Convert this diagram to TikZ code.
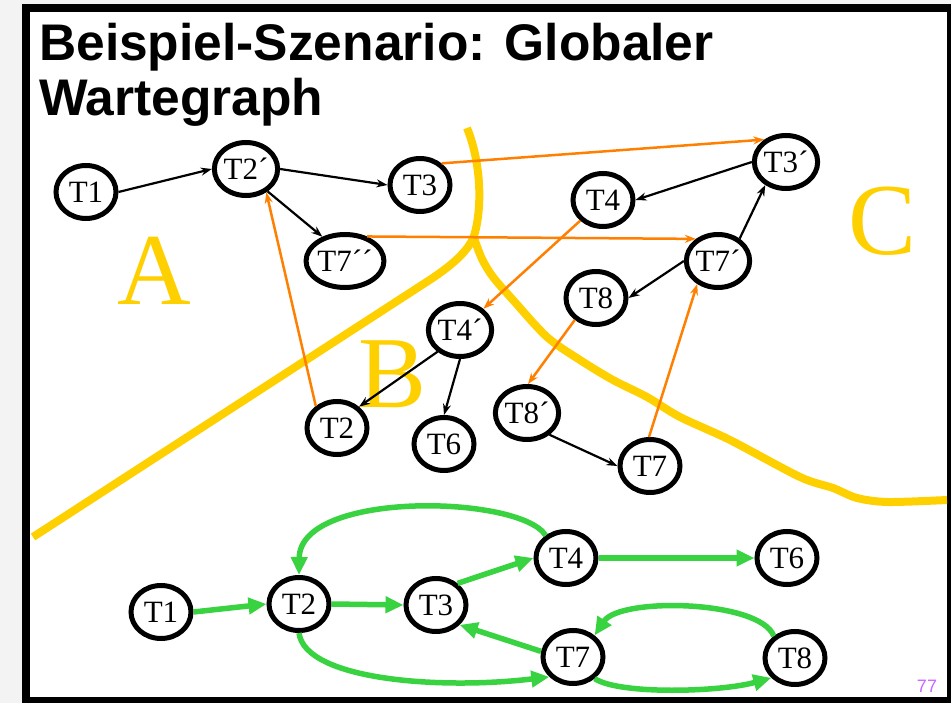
\documentclass[tikz,border=0pt]{standalone}
\usepackage{fontspec}
\setmainfont{Liberation Serif}
\newfontfamily\titlefont{Liberation Sans}
\usetikzlibrary{shapes.geometric,arrows.meta}
\definecolor{ylw}{RGB}{255,208,0}
\definecolor{org}{RGB}{255,128,0}
\definecolor{grn}{RGB}{57,210,64}
\definecolor{pnum}{RGB}{204,102,255}
\definecolor{bggray}{RGB}{243,243,243}
\begin{document}
\begin{tikzpicture}[x=1pt,y=-1pt,
 tnode/.style={ellipse,draw=black,line width=5pt,minimum width=60pt,minimum height=53pt,inner sep=0pt,fill=white,font=\fontsize{31}{36}\selectfont},
 blk/.style={-{Stealth[length=11pt,width=8pt]},line width=2.2pt,black},
 orng/.style={-{Stealth[length=11pt,width=8pt]},line width=2.5pt,org},
 gr/.style={-{Triangle[length=18pt,width=16pt]},line width=5.5pt,grn},
 zone/.style={ylw,line width=8pt},
 zlabel/.style={ylw,font=\fontsize{102}{110}\selectfont,inner sep=0pt,anchor=base},
 ttl/.style={font=\titlefont\bfseries\fontsize{51.5}{55}\selectfont,inner sep=0pt,anchor=base west}]
\useasboundingbox (0,0) rectangle (951,703);
% frame
\fill[bggray] (0,0) rectangle (951,703);
\fill[black] (22,4) rectangle (951,703);
\fill[white] (30,12) rectangle (947,697);
% title
\node[ttl] (title1) at (39,61) {Beispiel-Szenario: Globaler};
\node[ttl] (title2) at (39,116) {Wartegraph};
% zone borders
\draw[zone] (33,537) -- (425,283) .. controls (450,267) and (468,252) .. (474,236)
  .. controls (482,210) and (482,165) .. (467,128);
\draw[zone] plot[smooth] coordinates {(474,238) (482,259) (493,277) (513,300) (547,337) (580,360) (613,380) (647,397) (680,417) (730,440) (800,477) (833,488) (857,498) (888,502) (947,500)};
% zone labels
\node[zlabel] (zA) at (154,305) {A};
\node[zlabel] (zB) at (393,407) {B};
\node[zlabel] (zC) at (883,255) {C};
% local graphs
\node[tnode] (a1) at (86,192) {T1};
\node[tnode] (a2) at (246,169) {T2´};
\node[tnode] (a3) at (420,185) {T3};
\node[tnode] (a7) at (345,261) {T7´´};
\node[tnode] (c3) at (786,162) {T3´};
\node[tnode] (c4) at (603,200) {T4};
\node[tnode] (c7) at (718,261) {T7´};
\node[tnode] (c8) at (596,298) {T8};
\node[tnode] (b4) at (460,330) {T4´};
\node[tnode] (b2) at (337,428) {T2};
\node[tnode] (b6) at (444,444) {T6};
\node[tnode] (c8p) at (527,413) {T8´};
\node[tnode] (c7b) at (650,466) {T7};
% black local edges
\draw[blk] (a1.east) -- (a2.west);
\draw[blk] (a2.east) -- (a3.west);
\draw[blk] (a2.-46) -- (a7.133);
\draw[blk] (c3.west) -- (c4.east);
\draw[blk] (c7.46) -- (c3.228);
\draw[blk] (c7.west) -- (c8.east);
\draw[blk] (b4.224) -- (b2.44);
\draw[blk] (b4.south) -- (b6.north);
\draw[blk] (c8p.-44) -- (c7b.west);
% orange global edges
\draw[orng] (a3.45) -- (c3.134);
\draw[orng] (a7.48) -- (c7.135);
\draw[orng] (c4) -- (b4);
\draw[orng] (b2.134) -- (a2.-49);
\draw[orng] (c8.226) -- (c8p.88);
\draw[orng] (c7b.92) -- (c7.228);
% global graph
\node[tnode] (g1) at (161,612) {T1};
\node[tnode] (g2) at (299,604) {T2};
\node[tnode] (g3) at (436,605) {T3};
\node[tnode] (g4) at (566,558) {T4};
\node[tnode] (g6) at (787,558) {T6};
\node[tnode] (g7) at (573,657) {T7};
\node[tnode] (g8) at (795,658) {T8};
\draw[gr] (g1.east) -- (g2.west);
\draw[gr] (g2.east) -- (g3.west);
\draw[gr] (g3.45) -- (g4.west);
\draw[gr] (g4.east) -- (g6.west);
\draw[gr] (g4.132) .. controls (520,495) and (300,490) .. (g2.north);
\draw[gr] (g7.170) -- (g3.-40);
\draw[gr] (g2.south) .. controls (305,680) and (440,690) .. (g7.220);
\draw[gr] (g8.134) .. controls (760,600) and (620,597) .. (g7.45);
\draw[gr] (g7.-45) .. controls (620,695) and (720,692) .. (g8.220);
% page number
\node[font=\titlefont\fontsize{18}{20}\selectfont,text=pnum,inner sep=0pt] (pg) at (927,686) {77};
\end{tikzpicture}
\end{document}
